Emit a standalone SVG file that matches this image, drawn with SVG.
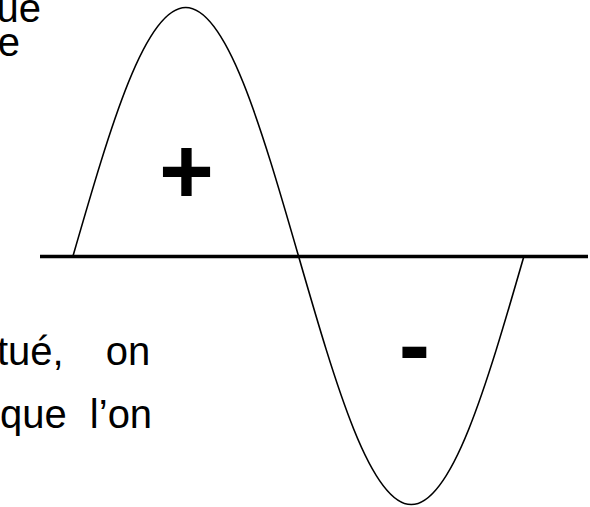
<svg xmlns="http://www.w3.org/2000/svg" width="590" height="507" viewBox="0 0 590 507">
<style>
.t{font-family:"Liberation Sans",Arial,sans-serif;font-size:40px;fill:#000}
.s{font-family:"Liberation Sans",Arial,sans-serif;font-weight:bold;font-size:94px;fill:#000}
</style>
<rect width="590" height="507" fill="#fff"/>
<g id="text">
<text class="t" x="41" y="22" text-anchor="end">ue</text>
<text class="t" x="20" y="56" text-anchor="end">e</text>
<text class="t" x="-3" y="365" word-spacing="31">tué, on</text>
<text class="t" x="0" y="428" word-spacing="12">que l’on</text>
</g>
<g id="connectors">
<line x1="40" y1="256.5" x2="588" y2="256.5" stroke="#000" stroke-width="3.5"/>
<path d="M73,256 C110.69,125.5 145.1,7.5 185.75,7.5 C226.4,7.5 260.81,125.5 298.5,256 C336.19,386.5 370.6,504.5 411.25,504.5 C451.9,504.5 486.31,386.5 524,256" fill="none" stroke="#000" stroke-width="1.6"/>
</g>
<g id="plus"><text class="s" x="186.5" y="203" text-anchor="middle">+</text></g>
<g id="minus"><text class="s" x="414.5" y="377" text-anchor="middle">-</text></g>
</svg>
